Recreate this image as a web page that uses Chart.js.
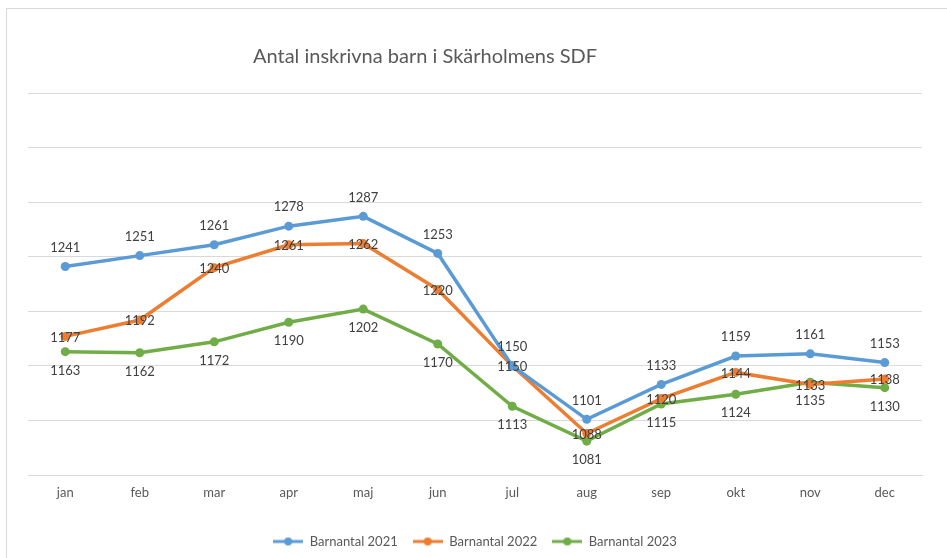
<!DOCTYPE html>
<html>
<head>
<meta charset="utf-8">
<script src="https://cdn.jsdelivr.net/npm/chart.js"></script>
<style>
  html, body { margin: 0; padding: 0; background: #fff; }
  #wrap { width: 947px; height: 558px; }
</style>
</head>
<body>
<div id="wrap"><canvas id="grafico" width="947" height="558"></canvas></div>
<script>
// Datos del diagrama
const manader = ['jan', 'feb', 'mar', 'apr', 'maj', 'jun', 'jul', 'aug', 'sep', 'okt', 'nov', 'dec'];
const barn2021 = [1241, 1251, 1261, 1278, 1287, 1253, 1150, 1101, 1133, 1159, 1161, 1153];
const barn2022 = [1177, 1192, 1240, 1261, 1262, 1220, 1150, 1088, 1120, 1144, 1133, 1138];
const barn2023 = [1163, 1162, 1172, 1190, 1202, 1170, 1113, 1081, 1115, 1124, 1135, 1130];
const titel = 'Antal inskrivna barn i Skärholmens SDF';

const FONT = 'Lato, Calibri, Carlito, sans-serif';

// Icono de leyenda: línea con círculo
function iconoLeyenda(color) {
  const c = document.createElement('canvas');
  c.width = 30;
  c.height = 10;
  const ctx = c.getContext('2d');
  ctx.strokeStyle = color;
  ctx.lineWidth = 3;
  ctx.beginPath();
  ctx.moveTo(0, 5);
  ctx.lineTo(30, 5);
  ctx.stroke();
  ctx.fillStyle = color;
  ctx.beginPath();
  ctx.arc(15, 5, 4, 0, Math.PI * 2);
  ctx.fill();
  return c;
}

// Fondo, marco y título
const fondoPlugin = {
  id: 'fondo',
  beforeDraw(chart) {
    const ctx = chart.ctx;
    ctx.save();
    ctx.fillStyle = '#fff';
    ctx.fillRect(0, 0, chart.width, chart.height);
    ctx.strokeStyle = '#d9d9d9';
    ctx.lineWidth = 1;
    ctx.strokeRect(6.5, 8.5, chart.width + 10, chart.height + 10);
    ctx.fillStyle = '#595959';
    ctx.font = '20px ' + FONT;
    ctx.textAlign = 'center';
    ctx.textBaseline = 'middle';
    ctx.fillText(titel, 425, 57);
    ctx.restore();
  }
};

// Etiquetas de valores
const etiquetasPlugin = {
  id: 'etiquetas',
  afterDatasetsDraw(chart) {
    const ctx = chart.ctx;
    ctx.save();
    ctx.font = '13px ' + FONT;
    ctx.fillStyle = '#404040';
    ctx.textAlign = 'center';
    ctx.textBaseline = 'middle';
    chart.data.datasets.forEach((ds, i) => {
      const meta = chart.getDatasetMeta(i);
      meta.data.forEach((pt, j) => {
        ctx.fillText(String(ds.data[j]), pt.x, pt.y + ds.desplazamiento);
      });
    });
    ctx.restore();
  }
};

function serie(label, datos, color, desplazamiento) {
  return {
    label: label,
    data: datos,
    borderColor: color,
    backgroundColor: color,
    borderWidth: 3.5,
    pointRadius: 4.5,
    pointHoverRadius: 4.5,
    pointBackgroundColor: color,
    pointBorderWidth: 0,
    pointStyle: 'circle',
    tension: 0,
    iconoLeyenda: iconoLeyenda(color),
    desplazamiento: desplazamiento
  };
}

const datasets = [
  serie('Barnantal 2021', barn2021, '#5b9bd5', -19),
  serie('Barnantal 2022', barn2022, '#ed7d31', 1),
  serie('Barnantal 2023', barn2023, '#70ad47', 19)
];

new Chart(document.getElementById('grafico').getContext('2d'), {
  type: 'line',
  data: { labels: manader, datasets: datasets },
  plugins: [fondoPlugin, etiquetasPlugin],
  options: {
    responsive: false,
    animation: false,
    layout: { padding: { top: 93, left: 28, right: 25, bottom: 0 } },
    scales: {
      x: {
        offset: true,
        grid: { display: false, drawTicks: false },
        border: { color: '#d9d9d9', width: 1 },
        ticks: { color: '#595959', font: { family: FONT, size: 13 }, padding: 10 },
        afterFit(scale) { scale.height = 45; }
      },
      y: {
        min: 1050,
        max: 1400,
        ticks: { display: false, stepSize: 50 },
        grid: { color: '#d9d9d9', lineWidth: 1, drawTicks: false },
        border: { display: false }
      }
    },
    plugins: {
      title: { display: false },
      tooltip: { enabled: false },
      legend: {
        position: 'bottom',
        labels: {
          color: '#595959',
          font: { family: FONT, size: 13 },
          usePointStyle: true,
          pointStyleWidth: 30,
          padding: 15,
          generateLabels(chart) {
            return chart.data.datasets.map((ds, i) => ({
              text: ds.label,
              pointStyle: ds.iconoLeyenda,
              fillStyle: ds.borderColor,
              strokeStyle: ds.borderColor,
              fontColor: '#595959',
              lineWidth: 0,
              hidden: false,
              datasetIndex: i
            }));
          }
        }
      }
    }
  }
});
</script>
</body>
</html>
